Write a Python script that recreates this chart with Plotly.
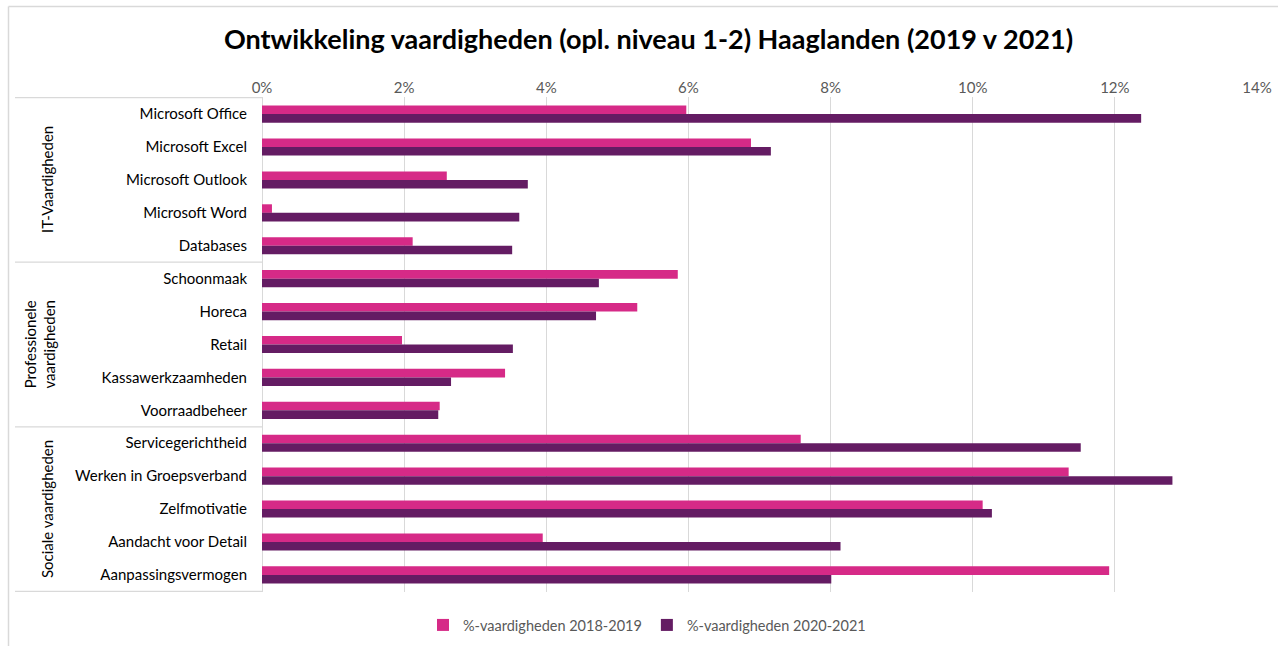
import plotly.graph_objects as go

categories = ["Microsoft Office", "Microsoft Excel", "Microsoft Outlook", "Microsoft Word", "Databases",
              "Schoonmaak", "Horeca", "Retail", "Kassawerkzaamheden", "Voorraadbeheer",
              "Servicegerichtheid", "Werken in Groepsverband", "Zelfmotivatie", "Aandacht voor Detail",
              "Aanpassingsvermogen"]
vals_2018_2019 = [5.97, 6.88, 2.60, 0.14, 2.12, 5.85, 5.28, 1.97, 3.42, 2.50, 7.58, 11.35, 10.14, 3.95, 11.92]
vals_2020_2021 = [12.37, 7.16, 3.74, 3.62, 3.52, 4.74, 4.70, 3.53, 2.66, 2.48, 11.52, 12.81, 10.27, 8.14, 8.01]
series_names = ["%-vaardigheden 2018-2019", "%-vaardigheden 2020-2021"]
groups = ["IT-Vaardigheden", "Professionele<br>vaardigheden", "Sociale vaardigheden"]
group_sizes = [5, 5, 5]
group_label_px = [47, 39, 47]

PINK = "#D62A87"
PURPLE = "#641C63"
GRID = "#D9D9D9"
FONT = "Lato, 'Open Sans', sans-serif"

W, H = 1278, 646
# plot area in screen pixels
PL, PR, PT, PB = 262, 1257, 97, 592
pw = PR - PL
ph = PB - PT
L = PL
T = PT
R = W - L - pw
B = H - T - ph

def px_x(p):
    return (p - PL) / pw

def px_y(p):
    return (PB - p) / ph

fig = go.Figure()
fig.add_trace(go.Bar(y=categories, x=vals_2018_2019, name=series_names[0], orientation="h",
                     marker=dict(color=PINK, line=dict(width=0))))
fig.add_trace(go.Bar(y=categories, x=vals_2020_2021, name=series_names[1], orientation="h",
                     marker=dict(color=PURPLE, line=dict(width=0))))

shapes = []
bounds = [-0.5]
acc = -0.5
for g in group_sizes:
    acc += g
    bounds.append(acc)
for b in bounds:
    shapes.append(dict(type="line", xref="paper", yref="y", x0=px_x(15), x1=0, y0=b, y1=b,
                       line=dict(color=GRID, width=1.3)))
# outer chart border (left and top)
shapes.append(dict(type="line", xref="paper", yref="paper", x0=px_x(8.5), x1=px_x(8.5), y0=px_y(6.5), y1=px_y(H + 20),
                   line=dict(color=GRID, width=1.5)))
shapes.append(dict(type="line", xref="paper", yref="paper", x0=px_x(8.5), x1=px_x(W + 20), y0=px_y(6.5), y1=px_y(6.5),
                   line=dict(color=GRID, width=1.5)))

annotations = []
start = 0
for g, n, gx in zip(groups, group_sizes, group_label_px):
    mid = start + (n - 1) / 2
    annotations.append(dict(text=g, xref="paper", yref="y", x=px_x(gx), y=mid, showarrow=False,
                            textangle=-90, font=dict(family=FONT, size=15, color="#000000"),
                            xanchor="center", yanchor="middle"))
    start += n

fig.update_layout(
    width=W, height=H,
    margin=dict(l=L, r=R, t=T, b=B, autoexpand=False),
    paper_bgcolor="white", plot_bgcolor="white",
    barmode="group", bargap=0.48, bargroupgap=0,
    title=dict(text="<b>Ontwikkeling vaardigheden (opl. niveau 1-2) Haaglanden (2019 v 2021)</b>",
               x=px_x(648.5), xref="paper", xanchor="center", y=1 - 40 / H, yanchor="middle",
               font=dict(family=FONT, size=27, color="#000000")),
    xaxis=dict(side="top", range=[0, 14], dtick=2, ticksuffix="%", showgrid=True, gridcolor=GRID,
               gridwidth=1.3, zeroline=True, zerolinecolor=GRID, zerolinewidth=1.3, showline=False,
               tickfont=dict(family=FONT, size=15, color="#595959"), fixedrange=True, ticks="",
               automargin=False),
    yaxis=dict(autorange="reversed", showgrid=False, showline=False, ticks="",
               tickfont=dict(family=FONT, size=15, color="#000000"), ticklabelstandoff=14,
               fixedrange=True, automargin=False),
    legend=dict(orientation="h", x=px_x(647), xanchor="center", y=px_y(625), yanchor="middle",
                font=dict(family=FONT, size=14.5, color="#595959"), traceorder="normal",
                itemwidth=30),
    shapes=shapes,
    annotations=annotations,
)

fig.write_html("out.html", config={"displayModeBar": False},
               post_script="document.body.style.margin='0px';")
